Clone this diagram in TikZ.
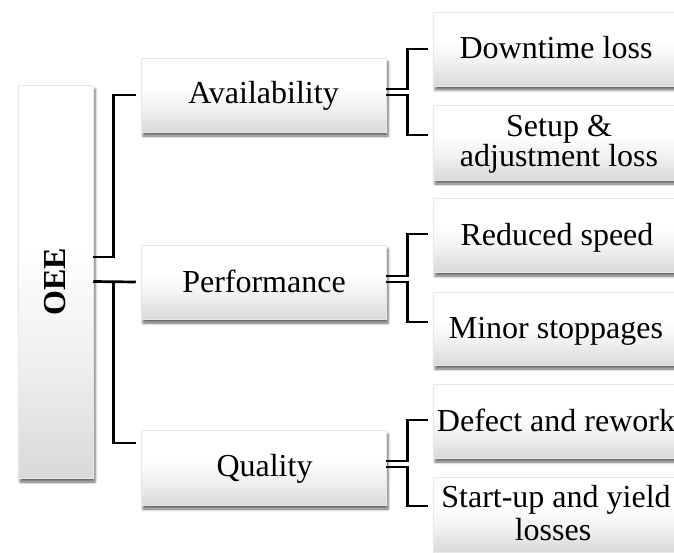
\documentclass[tikz,border=0pt]{standalone}
\usepackage{fontspec}
\setmainfont{Liberation Serif}
\usetikzlibrary{shadows.blur}
\pgfdeclareverticalshading{boxshade}{100bp}{color(0bp)=(black!15); color(25bp)=(black!15); color(40bp)=(black!6); color(55bp)=(white); color(75bp)=(white); color(100bp)=(white)}
\tikzset{
  box/.style={rectangle, draw=black!9, line width=0.5pt, shading=boxshade, inner sep=0pt,
    blur shadow={shadow xshift=2pt, shadow yshift=-4pt, shadow blur radius=2.5pt, shadow opacity=60}},
  lone/.style={box, minimum width=245pt},
  ltwo/.style={box, minimum width=246pt},
  txt/.style={anchor=base, inner sep=0pt, font=\fontsize{32}{30}\selectfont},
  conn/.style={draw=black, line width=2.7pt, line cap=butt, line join=miter}
}
\begin{document}
\begin{tikzpicture}[x=1pt, y=-1pt]
\useasboundingbox (0,0) rectangle (674,553);
\clip (0,0) rectangle (674,553);
% boxes
\node[box, minimum width=75pt, minimum height=393pt] (oee) at (55.5,281.5) {};
\node[lone, minimum height=74pt] (avail) at (263.5,95) {};
\node[lone, minimum height=74pt] (perf) at (263.5,282) {};
\node[lone, minimum height=75pt] (qual) at (263.5,467.5) {};
\node[ltwo, minimum height=74pt] (dt) at (556,49) {};
\node[ltwo, minimum height=75pt] (su) at (556,142.5) {};
\node[ltwo, minimum height=74pt] (rs) at (556,235) {};
\node[ltwo, minimum height=73pt] (ms) at (556,328.5) {};
\node[ltwo, minimum height=74pt] (df) at (556,421) {};
\node[ltwo, minimum height=75pt] (st) at (556,514.5) {};
% texts
\node[inner sep=0pt, rotate=90, font=\fontsize{32}{30}\selectfont\bfseries] (oeet) at (55,282) {OEE};
\node[txt] (availt) at (263.5,104) {Availability};
\node[txt] (perft) at (264,292) {Performance};
\node[txt] (qualt) at (264.5,476) {Quality};
\node[txt] (dtt) at (556,59) {Downtime loss};
\node[txt] (sut1) at (559,137) {Setup \&};
\node[txt] (sut2) at (559,167) {adjustment loss};
\node[txt] (rst) at (557,245) {Reduced speed};
\node[txt] (mst) at (556,338) {Minor stoppages};
\node[txt] (dft) at (556,431) {Defect and rework};
\node[txt] (stt1) at (556,507) {Start-up and yield};
\node[txt] (stt2) at (553,540) {losses};
% connectors level 1
\draw[conn] ([yshift=24.5pt]oee.east) -- ++(20,0) |- ([xshift=-5pt]avail.west);
\draw[conn] (oee.east) -- ([xshift=-5pt]perf.west);
\draw[conn] (oee.east) ++(20,0) |- ([xshift=-5pt,yshift=24.5pt]qual.west);
% connectors level 2
\draw[conn] ([yshift=6pt]avail.east) -- ++(21,0) |- ([xshift=-5pt]dt.west);
\draw[conn] (avail.east) -- ++(21,0) |- ([xshift=-5pt,yshift=7.5pt]su.west);
\draw[conn] ([yshift=6pt]perf.east) -- ++(21,0) |- ([xshift=-5pt,yshift=1pt]rs.west);
\draw[conn] (perf.east) -- ++(21,0) |- ([xshift=-5pt,yshift=6.5pt]ms.west);
\draw[conn] ([yshift=6.5pt]qual.east) -- ++(21,0) |- ([xshift=-5pt,yshift=1pt]df.west);
\draw[conn] ([yshift=0.5pt]qual.east) -- ++(21,0) |- ([xshift=-5pt,yshift=8.5pt]st.west);
\end{tikzpicture}
\end{document}
